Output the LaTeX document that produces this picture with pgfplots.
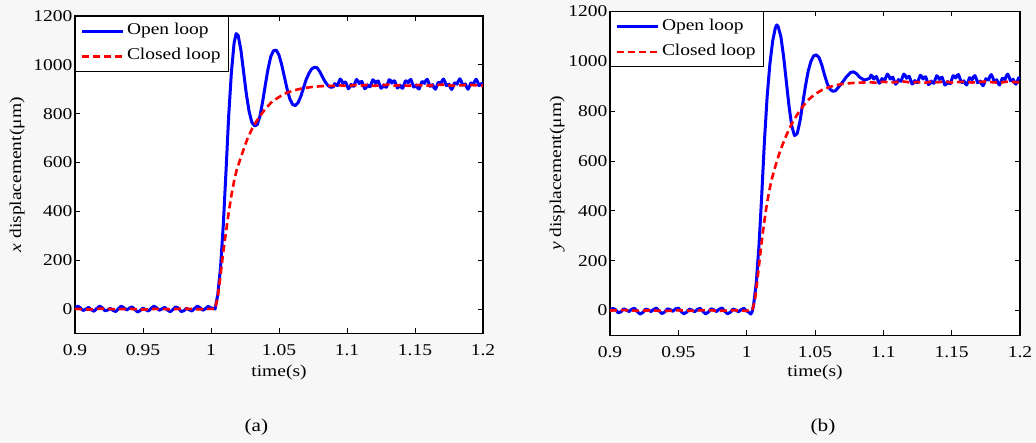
\documentclass[border=0pt]{standalone}
\usepackage{fontspec}
\setmainfont{Liberation Serif}[FakeStretch=1.18]
\usepackage{pgfplots}
\pgfplotsset{compat=1.18}
\definecolor{bgc}{RGB}{247,247,247}
\newcommand{\fs}{\fontsize{16.5}{19}\selectfont}
\pgfplotsset{
  myax/.style={
    scale only axis,
    xmin=0.9, xmax=1.2, ymin=-100, ymax=1200,
    xtick={0.9,0.95,1,1.05,1.1,1.15,1.2},
    xticklabels={0.9,0.95,1,1.05,1.1,1.15,1.2},
    ytick={0,200,400,600,800,1000,1200},
    yticklabels={0,200,400,600,800,1000,1200},
    /pgf/number format/assume math mode=true,
    tick align=inside,
    major tick length=5pt,
    tick style={black, line width=0.8pt},
    axis line style={black, line width=1.3pt},
    axis background/.style={fill=white},
    ticklabel style={font=\fs},
    xticklabel style={anchor=north, inner sep=0pt, yshift=-10.5pt},
    yticklabel style={anchor=east, inner sep=0pt, xshift=-2.5pt},
    label style={font=\fs},
    legend style={at={(0,1)}, anchor=north west, draw=black, line width=1pt,
      fill=white, font=\fs, inner xsep=5pt, inner ysep=5pt, row sep=5pt,
      nodes={inner sep=2.5pt, text height=11pt, text depth=4pt},
      cells={anchor=west}},
    legend image code/.code={\draw[#1] (0pt,0pt) -- (41pt,0pt);},
  },
  ol/.style={blue, line width=3pt, line join=round},
  cl/.style={red, line width=2.6pt, dash pattern=on 7pt off 4pt},
}
\begin{document}
\begin{tikzpicture}[x=1pt,y=1pt]
\fill[bgc] (0,0) rectangle (1036,443);
% ---------- (a) ----------
\begin{axis}[myax, at={(75pt,109.5pt)}, anchor=south west,
  width=408pt, height=317.5pt,
  xlabel={time(s)}, ylabel={\textit{x} displacement(μm)},
  xlabel style={at={(axis description cs:0.5,-0.122)}, anchor=center},
  ylabel style={at={(axis description cs:-0.142,0.5)}, anchor=center, rotate=0}]
\addplot[ol] coordinates {
(0.900,3) (0.902,12) (0.904,5) (0.906,-6) (0.908,0) (0.910,7) (0.912,-3) (0.914,-9)
(0.916,2) (0.918,12) (0.920,6) (0.922,-7) (0.924,-4) (0.926,3) (0.928,-6) (0.930,-10)
(0.932,2) (0.934,12) (0.936,5) (0.938,-4) (0.940,4) (0.942,9) (0.944,-2) (0.946,-12)
(0.948,-6) (0.950,4) (0.952,-3) (0.954,-8) (0.956,3) (0.958,12) (0.960,5) (0.962,-5)
(0.964,1) (0.966,7) (0.968,-4) (0.970,-11) (0.972,-2) (0.974,9) (0.976,4) (0.978,-10)
(0.980,-7) (0.982,3) (0.984,-3) (0.986,-8) (0.988,3) (0.990,12) (0.992,5) (0.994,-5)
(0.996,2) (0.998,11) (1.000,4) (1.002,3)
(1.003,0) (1.005,60) (1.007,170) (1.009,340) (1.011,560) (1.013,790) (1.015,970)
(1.017,1090) (1.0185,1128) (1.020,1120) (1.022,1060) (1.024,970) (1.026,880)
(1.028,810) (1.030,765) (1.032,750) (1.034,755) (1.036,790) (1.038,850) (1.040,920)
(1.042,985) (1.044,1035) (1.046,1058) (1.048,1060) (1.050,1040) (1.052,1000)
(1.054,950) (1.056,900) (1.058,860) (1.060,838) (1.062,833) (1.064,845) (1.066,870)
(1.068,905) (1.070,940) (1.072,965) (1.074,983) (1.076,990) (1.078,988) (1.080,972)
(1.082,950) (1.084,930) (1.086,915) (1.088,908)
(1.090,910) (1.091,923) (1.092,918) (1.093,915) (1.094,930) (1.095,942) (1.096,936)
(1.097,923) (1.098,928) (1.099,930) (1.100,915) (1.101,902) (1.102,908) (1.103,920)
(1.104,914) (1.105,912) (1.106,928) (1.107,940) (1.108,935) (1.109,923) (1.110,930)
(1.111,932) (1.112,916) (1.113,902) (1.114,906) (1.115,918) (1.116,912) (1.117,910)
(1.118,926) (1.119,939) (1.120,934) (1.121,924) (1.122,932) (1.123,934) (1.124,918)
(1.125,904) (1.126,908) (1.127,918) (1.128,910) (1.129,908) (1.130,924) (1.131,939)
(1.132,936) (1.133,925) (1.134,933) (1.135,935) (1.136,920) (1.137,905) (1.138,909)
(1.139,917) (1.140,907) (1.141,904) (1.142,920) (1.143,935) (1.144,933) (1.145,926)
(1.146,937) (1.147,940) (1.148,925) (1.149,909) (1.150,911) (1.151,917) (1.152,905)
(1.153,901) (1.154,915) (1.155,931) (1.156,930) (1.157,924) (1.158,936) (1.159,941)
(1.160,928) (1.161,912) (1.162,914) (1.163,919) (1.164,906) (1.165,900) (1.166,912)
(1.167,928) (1.168,927) (1.169,922) (1.170,936) (1.171,942) (1.172,931) (1.173,915)
(1.174,917) (1.175,921) (1.176,907) (1.177,899) (1.178,910) (1.179,926) (1.180,925)
(1.181,921) (1.182,935) (1.183,943) (1.184,933) (1.185,917) (1.186,919) (1.187,922)
(1.188,908) (1.189,900) (1.190,911) (1.191,926) (1.192,924) (1.193,920) (1.194,934)
(1.195,941) (1.196,931) (1.197,915) (1.198,918) (1.199,924) (1.200,912)
};
\addlegendentry{Open loop}
\addplot[cl] coordinates {
(0.900,1) (0.910,-2) (0.920,2) (0.930,-1) (0.940,1) (0.950,-2) (0.960,1) (0.970,-1)
(0.980,2) (0.990,-1) (1.000,1) (1.003,0)
(1.005,50) (1.007,140) (1.009,232) (1.011,315) (1.013,395) (1.015,465) (1.017,525)
(1.019,572) (1.021,605) (1.023,638) (1.025,670) (1.027,700) (1.030,736) (1.033,765)
(1.036,790) (1.040,820) (1.045,850) (1.050,868) (1.055,884) (1.060,894) (1.065,901)
(1.070,906) (1.075,910) (1.080,912) (1.085,914)
(1.090,914) (1.095,916) (1.100,913) (1.105,917) (1.110,915) (1.115,918) (1.120,914)
(1.125,916) (1.130,919) (1.135,915) (1.140,917) (1.145,914) (1.150,918) (1.155,916)
(1.160,915) (1.165,917) (1.170,919) (1.175,916) (1.180,914) (1.185,917) (1.190,918)
(1.195,916) (1.200,915)
};
\addlegendentry{Closed loop}
\end{axis}
% ---------- (b) ----------
\begin{axis}[myax, at={(610pt,107.5pt)}, anchor=south west,
  width=410pt, height=324pt,
  xlabel={time(s)}, ylabel={\textit{y} displacement(μm)},
  xlabel style={at={(axis description cs:0.5,-0.113)}, anchor=center},
  ylabel style={at={(axis description cs:-0.129,0.5)}, anchor=center, rotate=0}]
\addplot[ol] coordinates {
(0.900,-3) (0.902,9) (0.904,4) (0.906,-9) (0.908,-5) (0.910,7) (0.912,2) (0.914,-4)
(0.916,6) (0.918,9) (0.920,-4) (0.922,-14) (0.924,-8) (0.926,6) (0.928,3) (0.930,-4)
(0.932,5) (0.934,10) (0.936,-2) (0.938,-12) (0.940,-6) (0.942,7) (0.944,4) (0.946,-3)
(0.948,7) (0.950,10) (0.952,-3) (0.954,-13) (0.956,-7) (0.958,6) (0.960,2) (0.962,-5)
(0.964,5) (0.966,9) (0.968,-4) (0.970,-13) (0.972,-6) (0.974,7) (0.976,3) (0.978,-4)
(0.980,6) (0.982,10) (0.984,-3) (0.986,-13) (0.988,-7) (0.990,6) (0.992,2) (0.994,-5)
(0.996,4) (0.998,9) (1.000,-2)
(1.001,-4) (1.003,-14) (1.004,-5) (1.005,20) (1.007,110) (1.009,260) (1.011,460)
(1.013,680) (1.015,860) (1.017,990) (1.019,1080) (1.021,1135) (1.022,1146)
(1.023,1140) (1.025,1100) (1.027,1020) (1.029,920) (1.031,820) (1.033,740)
(1.035,702) (1.037,710) (1.039,760) (1.041,830) (1.043,900) (1.045,960) (1.047,1000)
(1.049,1022) (1.051,1026) (1.053,1015) (1.055,985) (1.057,945) (1.059,910)
(1.061,888) (1.063,880) (1.065,882) (1.067,895) (1.070,915) (1.073,938) (1.076,955)
(1.078,958) (1.080,952) (1.083,935) (1.086,925) (1.088,928)
(1.090,932) (1.091,945) (1.092,940) (1.093,929) (1.094,936) (1.095,939) (1.096,924)
(1.097,912) (1.098,918) (1.099,931) (1.100,926) (1.101,923) (1.102,938) (1.103,949)
(1.104,942) (1.105,929) (1.106,934) (1.107,936) (1.108,920) (1.109,908) (1.110,914)
(1.111,927) (1.112,922) (1.113,920) (1.114,936) (1.115,949) (1.116,944) (1.117,932)
(1.118,938) (1.119,940) (1.120,924) (1.121,909) (1.122,912) (1.123,923) (1.124,916)
(1.125,914) (1.126,930) (1.127,944) (1.128,940) (1.129,929) (1.130,936) (1.131,938)
(1.132,922) (1.133,907) (1.134,910) (1.135,921) (1.136,914) (1.137,912) (1.138,928)
(1.139,942) (1.140,938) (1.141,927) (1.142,934) (1.143,936) (1.144,920) (1.145,905)
(1.146,908) (1.147,919) (1.148,912) (1.149,910) (1.150,926) (1.151,942) (1.152,940)
(1.153,933) (1.154,944) (1.155,947) (1.156,932) (1.157,915) (1.158,916) (1.159,922)
(1.160,910) (1.161,905) (1.162,918) (1.163,934) (1.164,932) (1.165,926) (1.166,938)
(1.167,943) (1.168,930) (1.169,914) (1.170,916) (1.171,921) (1.172,908) (1.173,902)
(1.174,914) (1.175,930) (1.176,928) (1.177,925) (1.178,940) (1.179,947) (1.180,936)
(1.181,920) (1.182,922) (1.183,926) (1.184,912) (1.185,905) (1.186,916) (1.187,932)
(1.188,930) (1.189,927) (1.190,942) (1.191,949) (1.192,938) (1.193,922) (1.194,924)
(1.195,928) (1.196,914) (1.197,908) (1.198,920) (1.199,934) (1.200,930)
};
\addlegendentry{Open loop}
\addplot[cl] coordinates {
(0.900,0) (0.910,2) (0.920,-1) (0.930,1) (0.940,-2) (0.950,1) (0.960,-1) (0.970,2)
(0.980,-1) (0.990,1) (1.000,-1) (1.004,0)
(1.006,40) (1.008,130) (1.010,230) (1.012,320) (1.014,400) (1.016,465) (1.018,520)
(1.020,560) (1.022,598) (1.024,632) (1.026,662) (1.028,690) (1.031,728) (1.034,760)
(1.038,795) (1.042,826) (1.046,850) (1.050,868) (1.055,885) (1.060,896) (1.065,904)
(1.070,909) (1.075,912) (1.080,914) (1.085,915)
(1.090,916) (1.095,914) (1.100,918) (1.105,915) (1.110,917) (1.115,919) (1.120,915)
(1.125,917) (1.130,914) (1.135,918) (1.140,916) (1.145,919) (1.150,915) (1.155,917)
(1.160,918) (1.165,915) (1.170,917) (1.175,919) (1.180,916) (1.185,914) (1.190,918)
(1.195,917) (1.200,916)
};
\addlegendentry{Closed loop}
\end{axis}
\node[font=\fontsize{18}{21}\selectfont] at (256.3,16.3) {(a)};
\node[font=\fontsize{18}{21}\selectfont] at (823,16.3) {(b)};
\end{tikzpicture}
\end{document}
